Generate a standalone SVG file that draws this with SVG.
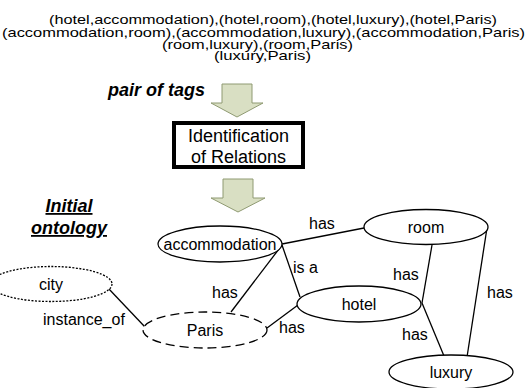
<svg xmlns="http://www.w3.org/2000/svg" width="531" height="388" viewBox="0 0 531 388">
  <style>
    text { font-family: "Liberation Sans", Arial, sans-serif; fill: #000; }
    .pairs { font-size: 13.5px; }
    .title { font-size: 18px; font-weight: bold; font-style: italic; }
    .step { font-size: 18px; text-anchor: middle; }
    .lbl { font-size: 16px; }
    .name { font-size: 16px; text-anchor: middle; }
    .node { fill: #fff; stroke: #000; stroke-width: 1.3; }
    .dashed { stroke-dasharray: 9 5; }
    .dotted { stroke-dasharray: 2 1.5; }
    .edge { stroke: #000; stroke-width: 1.3; fill: none; }
    .flow { fill: #d9dfc3; stroke: #8f9a72; stroke-width: 1; }
  </style>

  <!-- tag pairs (wide, tightly stacked lines) -->
  <g id="pairs">
    <text class="pairs" x="49" y="24" textLength="448" lengthAdjust="spacingAndGlyphs">(hotel,accommodation),(hotel,room),(hotel,luxury),(hotel,Paris)</text>
    <text class="pairs" x="2" y="36.5" textLength="523" lengthAdjust="spacingAndGlyphs">(accommodation,room),(accommodation,luxury),(accommodation,Paris)</text>
    <text class="pairs" x="162" y="48.5" textLength="191" lengthAdjust="spacingAndGlyphs">(room,luxury),(room,Paris)</text>
    <text class="pairs" x="214" y="60" textLength="97" lengthAdjust="spacingAndGlyphs">(luxury,Paris)</text>
  </g>

  <text class="title" x="108" y="96">pair of tags</text>

  <!-- block arrows -->
  <g id="arrow-pairs">
    <path class="flow" d="M222,84 H252 V103 H263 L237,117 L211,103 H222 Z"/>
  </g>

  <g id="step-relations">
    <rect x="174" y="123" width="129" height="44" fill="#fff" stroke="#000" stroke-width="4"/>
    <text class="step" x="238.5" y="142">Identification</text>
    <text class="step" x="238.5" y="163">of Relations</text>
  </g>

  <g id="arrow-ontology">
    <path class="flow" d="M223,179 H253 V198 H265 L238,212 L211,198 H223 Z"/>
  </g>

  <g id="ontology-title">
    <text class="title" x="69" y="212" text-anchor="middle" text-decoration="underline">Initial</text>
    <text class="title" x="69" y="234" text-anchor="middle" text-decoration="underline">ontology</text>
  </g>

  <!-- relations -->
  <g id="connectors">
    <line class="edge" x1="282" y1="244" x2="364" y2="228"/>
    <line class="edge" x1="282" y1="245" x2="300" y2="297"/>
    <line class="edge" x1="282" y1="245" x2="231" y2="312"/>
    <line class="edge" x1="298" y1="305" x2="267" y2="328"/>
    <line class="edge" x1="108" y1="288" x2="145" y2="327"/>
    <line class="edge" x1="432" y1="245" x2="422" y2="303"/>
    <line class="edge" x1="487" y1="228" x2="467" y2="357"/>
    <line class="edge" x1="422" y1="303" x2="444" y2="356"/>
    <text class="lbl" x="309" y="229">has</text>
    <text class="lbl" x="293" y="273">is a</text>
    <text class="lbl" x="212" y="298">has</text>
    <text class="lbl" x="279" y="333">has</text>
    <text class="lbl" x="43" y="325">instance_of</text>
    <text class="lbl" x="393" y="280">has</text>
    <text class="lbl" x="487" y="298">has</text>
    <text class="lbl" x="402" y="340">has</text>
  </g>

  <!-- concepts -->
  <g id="accommodation">
    <ellipse class="node" cx="220" cy="244" rx="62" ry="18"/>
    <text class="name" x="220" y="250">accommodation</text>
  </g>
  <g id="room">
    <ellipse class="node" cx="426" cy="227" rx="62" ry="17.5"/>
    <text class="name" x="426" y="233">room</text>
  </g>
  <g id="hotel">
    <ellipse class="node" cx="359" cy="304" rx="62" ry="18"/>
    <text class="name" x="359" y="310">hotel</text>
  </g>
  <g id="luxury">
    <ellipse class="node" cx="451" cy="372" rx="62" ry="17"/>
    <text class="name" x="451" y="378">luxury</text>
  </g>
  <g id="city">
    <ellipse class="node dotted" cx="51" cy="284" rx="61" ry="17.5"/>
    <text class="name" x="51" y="290">city</text>
  </g>
  <g id="Paris">
    <ellipse class="node dashed" cx="205" cy="330" rx="62" ry="18"/>
    <text class="name" x="205" y="336">Paris</text>
  </g>
</svg>
